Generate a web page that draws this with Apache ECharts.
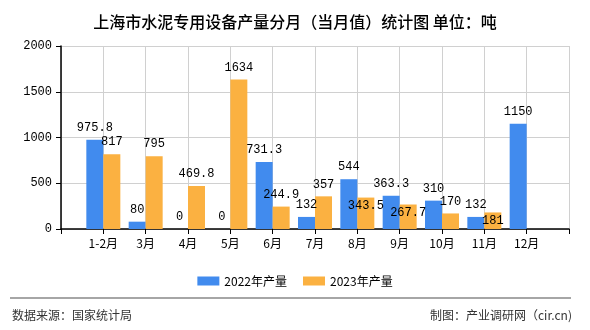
<!DOCTYPE html>
<html><head><meta charset="utf-8">
<script src="https://cdn.jsdelivr.net/npm/echarts@6/dist/echarts.min.js"></script>
<style>html,body{margin:0;padding:0;background:#fff}#c{width:590px;height:330px}</style>
</head><body><div id="c"></div>
<script>
const categories = ['1-2月','3月','4月','5月','6月','7月','8月','9月','10月','11月','12月'];
const values2022 = [975.8, 80, 0, 0, 731.3, 132, 544, 363.3, 310, 132, 1150];
const values2023 = [817, 795, 469.8, 1634, 244.9, 357, 343.5, 267.7, 170, 181, null];
const yTicks = [0, 500, 1000, 1500, 2000];
const insideLabel2023 = [6, 7, 9]; // indices whose label sits inside the bar top

const axisCats = [''].concat(categories, ['']);
const numFont = 'Liberation Mono';
function pad(arr, inside) {
  return [null].concat(arr.map((v, i) => {
    if (inside && inside.indexOf(i) >= 0) {
      return { value: v, label: { position: 'insideTop', distance: 2 } };
    }
    return v;
  }), [null]);
}

const chart = echarts.init(document.getElementById('c'));
chart.setOption({
  animation: false,
  title: {
    text: '上海市水泥专用设备产量分月（当月值）统计图 单位：吨',
    left: 'center', top: 9,
    textStyle: { fontFamily: 'Noto Sans CJK SC', fontSize: 16, fontWeight: 500, color: '#000' }
  },
  legend: {
    top: 270, left: 'center', itemWidth: 22, itemHeight: 9, itemGap: 16,
    icon: 'rect',
    textStyle: { fontFamily: 'Noto Sans CJK SC', fontSize: 12, color: '#000' },
    data: ['2022年产量', '2023年产量']
  },
  grid: { left: 61, right: 21, top: 46, bottom: 101, containLabel: false },
  xAxis: {
    type: 'category', data: axisCats, boundaryGap: false,
    axisLine: { lineStyle: { color: '#000', width: 1.5 } },
    axisTick: { show: true, interval: 0, length: 5, lineStyle: { color: '#000' } },
    axisLabel: { interval: 0, margin: 8, fontFamily: 'Noto Sans CJK SC', fontSize: 12, color: '#000' },
    splitLine: { show: true, interval: 0, lineStyle: { color: '#d0d0d0', width: 1 } }
  },
  yAxis: {
    type: 'value', min: yTicks[0], max: yTicks[yTicks.length - 1], interval: 500,
    axisLine: { show: true, lineStyle: { color: '#000', width: 1.5 } },
    axisTick: { show: true, length: 5, lineStyle: { color: '#000' } },
    axisLabel: { margin: 9, fontFamily: numFont, fontSize: 12, color: '#000', formatter: v => String(v) },
    splitLine: { show: true, lineStyle: { color: '#d0d0d0', width: 1 } }
  },
  series: [
    {
      name: '2022年产量', type: 'bar', data: pad(values2022), barWidth: 17, barGap: '0%',
      itemStyle: { color: '#418bee' },
      label: { show: true, position: 'top', distance: 6, fontFamily: numFont, fontSize: 12, color: '#000' }
    },
    {
      name: '2023年产量', type: 'bar', data: pad(values2023, insideLabel2023), barWidth: 17, barGap: '0%',
      itemStyle: { color: '#fbb141' },
      label: { show: true, position: 'top', distance: 6, fontFamily: numFont, fontSize: 12, color: '#000' }
    }
  ],
  graphic: [
    { type: 'line', shape: { x1: 10, y1: 298, x2: 571, y2: 298 }, style: { stroke: '#888', lineWidth: 1.5 } },
    { type: 'text', left: 12, top: 309, style: { text: '数据来源：国家统计局', font: '12px "Noto Sans CJK SC"', fill: '#333' } },
    { type: 'text', right: 18, top: 309, style: { text: '制图：产业调研网（cir.cn)', font: '12px "Noto Sans CJK SC"', fill: '#333' } }
  ]
});
</script></body></html>
